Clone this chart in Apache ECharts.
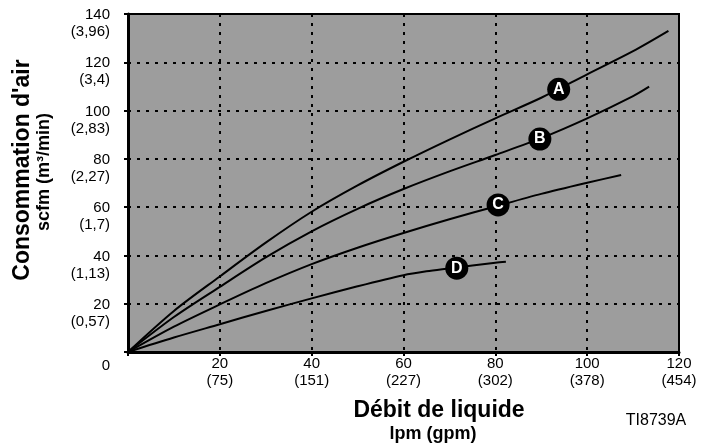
<!DOCTYPE html>
<html>
<head>
<meta charset="utf-8">
<script src="https://cdn.jsdelivr.net/npm/echarts@6/dist/echarts.min.js"></script>
<style>
html,body{margin:0;padding:0;background:#fff;}
#chart{width:707px;height:446px;}
</style>
</head>
<body>
<div id="chart"></div>
<script>
// Data (x = liquid flow lpm/gpm scale, y = air consumption scfm)
const curveA = [[0,0],[10,17],[20,31.3],[30,45.3],[40,58.1],[50,69],[60,78.8],[70,88],[80,96.8],[90,105.3],[100,115],[110,124.6],[117.7,133]];
const curveB = [[0,0],[10,14.5],[20,27],[30,39.2],[40,50],[50,59.3],[60,67.5],[70,74.8],[80,81.6],[90,88.6],[100,96.8],[110,106],[113.5,109.9]];
const curveC = [[0,0],[10,10.5],[20,19.7],[30,28.5],[40,36.4],[50,43.2],[60,49.3],[70,55],[80,60.3],[90,65.5],[100,70.1],[107.4,73.3]];
const curveD = [[0,0],[10,6],[20,11.5],[30,17],[40,22.2],[50,27.2],[60,31.8],[65,33.4],[70,34.6],[80,37],[82.3,37.4]];
const markerNames = ['A','B','C','D'];
const markerX = [93.8, 89.7, 80.6, 71.6];
const markerY = [108.8, 88.2, 60.9, 34.7];
const xTickMain = [0,20,40,60,80,100,120];
const xTickSub = ['','(75)','(151)','(227)','(302)','(378)','(454)'];
const yTickMain = [0,20,40,60,80,100,120,140];
const yTickSub = ['','(0,57)','(1,13)','(1,7)','(2,27)','(2,83)','(3,4)','(3,96)'];

const FONT = '"Liberation Sans", Arial, sans-serif';
const chart = echarts.init(document.getElementById('chart'));

const lineSeries = (data) => ({
  type: 'line', data: data, smooth: 0.3, symbol: 'none',
  lineStyle: {color: '#000', width: 2}, z: 3
});

chart.setOption({
  animation: false,
  backgroundColor: '#fff',
  grid: {
    left: 128, right: 28, top: 14, bottom: 94,
    show: true, backgroundColor: '#9d9d9d', borderColor: '#000', borderWidth: 2
  },
  xAxis: {
    type: 'value', min: 0, max: 120, interval: 20,
    axisLine: {show: true, onZero: false, lineStyle: {color: '#000', width: 3}},
    axisTick: {show: true, length: 4, lineStyle: {color: '#000', width: 2}},
    splitLine: {show: true, lineStyle: {color: '#000', width: 2, type: [3, 6]}},
    axisLabel: {
      margin: 3, color: '#000', fontFamily: FONT, fontSize: 15, lineHeight: 17,
      showMinLabel: true, showMaxLabel: true,
      formatter: function (v) {
        const i = xTickMain.indexOf(v);
        if (i <= 0) return '';
        return xTickMain[i] + '\n' + xTickSub[i];
      }
    }
  },
  yAxis: {
    type: 'value', min: 0, max: 140, interval: 20,
    axisLine: {show: true, onZero: false, lineStyle: {color: '#000', width: 3}},
    axisTick: {show: true, length: 4, lineStyle: {color: '#000', width: 2}},
    splitLine: {show: true, lineStyle: {color: '#000', width: 2, type: [3, 6]}},
    axisLabel: {
      margin: 18, color: '#000', fontFamily: FONT, fontSize: 15,
      align: 'right', verticalAlign: 'top',
      showMinLabel: true, showMaxLabel: true,
      rich: {
        a: {fontFamily: FONT, fontSize: 15, color: '#000', lineHeight: 2, align: 'right'},
        b: {fontFamily: FONT, fontSize: 15, color: '#000', lineHeight: 32, align: 'right'},
        z: {fontFamily: FONT, fontSize: 15, color: '#000', lineHeight: 28, align: 'right'}
      },
      formatter: function (v) {
        const i = yTickMain.indexOf(v);
        if (i < 0) return '';
        if (i === 0) return '{z|0}';
        return '{a|' + yTickMain[i] + '}\n{b|' + yTickSub[i] + '}';
      }
    }
  },
  series: [
    lineSeries(curveA), lineSeries(curveB), lineSeries(curveC), lineSeries(curveD),
    {
      type: 'scatter', z: 5,
      data: markerNames.map((n, i) => ({value: [markerX[i], markerY[i]], name: n})),
      symbol: 'circle', symbolSize: 23,
      itemStyle: {color: '#000', opacity: 1},
      label: {
        show: true, position: 'inside', formatter: '{b}',
        color: '#fff', fontFamily: FONT, fontWeight: 'bold', fontSize: 16
      }
    }
  ],
  graphic: [
    {type: 'text', x: 23, y: 170, rotation: Math.PI / 2,
     style: {text: "Consommation d'air", font: 'bold 23px ' + FONT, fill: '#000', textAlign: 'center', textVerticalAlign: 'middle'}},
    {type: 'text', x: 44, y: 172, rotation: Math.PI / 2,
     style: {text: 'scfm (m³/min)', font: 'bold 18px ' + FONT, fill: '#000', textAlign: 'center', textVerticalAlign: 'middle'}},
    {type: 'text', x: 439, y: 411,
     style: {text: 'Débit de liquide', font: 'bold 23px ' + FONT, fill: '#000', textAlign: 'center', textVerticalAlign: 'middle'}},
    {type: 'text', x: 433, y: 434,
     style: {text: 'lpm (gpm)', font: 'bold 18px ' + FONT, fill: '#000', textAlign: 'center', textVerticalAlign: 'middle'}},
    {type: 'text', x: 656, y: 421,
     style: {text: 'TI8739A', font: '16px ' + FONT, fill: '#000', textAlign: 'center', textVerticalAlign: 'middle'}}
  ]
});
</script>
</body>
</html>
